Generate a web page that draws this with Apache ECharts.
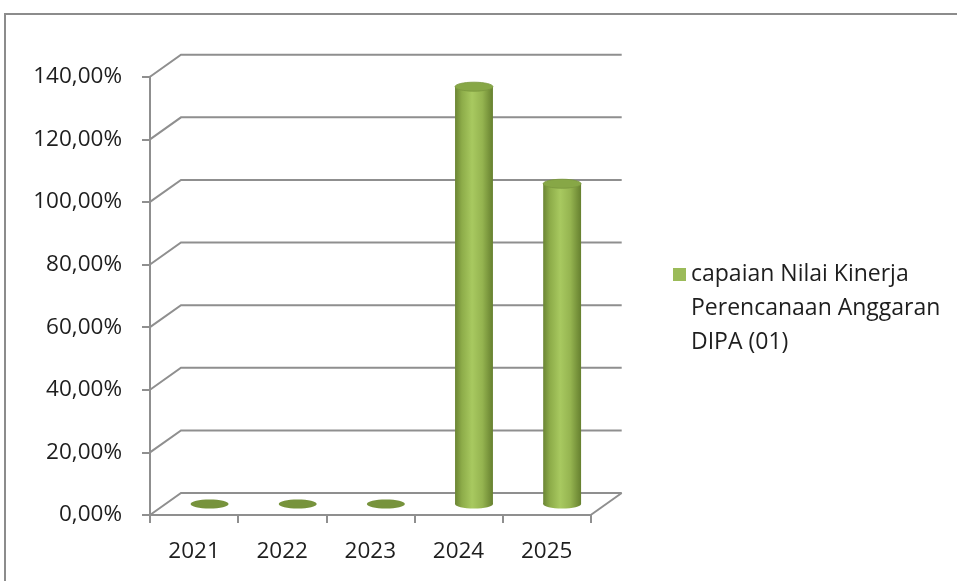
<!DOCTYPE html>
<html><head><meta charset="utf-8">
<script src="https://cdn.jsdelivr.net/npm/echarts@6/dist/echarts.min.js"></script>
<style>html,body{margin:0;padding:0;background:#fff}#c{width:957px;height:581px}</style>
</head><body><div id="c"></div>
<script>
const categories = ['2021', '2022', '2023', '2024', '2025'];
const values = [0, 0, 0, 133.3, 102.3];
const yTicks = [0, 20, 40, 60, 80, 100, 120, 140];
const seriesName = 'capaian Nilai Kinerja Perencanaan Anggaran DIPA (01)';

const DX = 31, DY = -22;
const FONT = 'Open Sans';
const LINE = '#8f8f8f';
const TEXT = '#1e1e1e';

const chart = echarts.init(document.getElementById('c'), null, { renderer: 'canvas' });

function gridRender(params, api) {
  const cs = params.coordSys;
  const v = api.value(1);
  const y = api.coord([0, v])[1];
  const x0 = cs.x, x1 = cs.x + cs.width;
  const children = [{
    type: 'polyline',
    shape: { points: [[x0, y], [x0 + DX, y + DY], [x1 + DX, y + DY]] },
    style: { stroke: LINE, lineWidth: 2, fill: null }
  }];
  if (v === 0) {
    children.push({
      type: 'line',
      shape: { x1: x1, y1: y, x2: x1 + DX, y2: y + DY },
      style: { stroke: LINE, lineWidth: 2 }
    });
  }
  return { type: 'group', children: children };
}

function barRender(params, api) {
  const i = api.value(0), v = api.value(1);
  const base = api.coord([i, 0]);
  const top = api.coord([i, v]);
  const bw = api.size([1, 0])[0] * 0.43;
  const cx = base[0] + DX / 2, by = base[1] + DY / 2, ty = top[1] + DY / 2;
  const rx = bw / 2, ry = 4.5;
  if (v <= 0) {
    return { type: 'ellipse', shape: { cx: cx, cy: by, rx: rx, ry: ry }, style: { fill: '#77933c' } };
  }
  const grad = () => new echarts.graphic.LinearGradient(0, 0, 1, 0, [
    { offset: 0, color: '#6b8534' },
    { offset: 0.18, color: '#8dac49' },
    { offset: 0.45, color: '#a8c960' },
    { offset: 0.72, color: '#95b450' },
    { offset: 1, color: '#66802f' }
  ]);
  return {
    type: 'group',
    children: [
      { type: 'ellipse', shape: { cx: cx, cy: by, rx: rx, ry: ry }, style: { fill: grad() } },
      { type: 'rect', shape: { x: cx - rx, y: ty, width: bw, height: by - ty }, style: { fill: grad() } },
      { type: 'ellipse', shape: { cx: cx, cy: ty, rx: rx, ry: ry }, style: { fill: '#87a746', stroke: '#7a973e', lineWidth: 0.8 } }
    ]
  };
}

chart.setOption({
  animation: false,
  graphic: [{
    type: 'rect', silent: true,
    shape: { x: 5, y: 14, width: 1000, height: 700 },
    style: { fill: null, stroke: '#8c8c8c', lineWidth: 2 }
  }],
  grid: { left: 150, top: 76.7, width: 440.7, height: 438.3, containLabel: false, outerBoundsMode: 'none' },
  legend: {
    orient: 'vertical', left: 668, top: 184.5,
    icon: 'rect', itemWidth: 13, itemHeight: 13,
    formatter: n => '\n\n' + n.replace(' Perencanaan', '\nPerencanaan').replace(' DIPA', '\nDIPA'),
    textStyle: { fontFamily: FONT, fontSize: 23, lineHeight: 34, color: TEXT },
    data: [seriesName]
  },
  xAxis: {
    type: 'category', data: categories, boundaryGap: true,
    axisLine: { show: true, lineStyle: { color: LINE, width: 2 } },
    axisTick: { show: true, length: 8, lineStyle: { color: LINE, width: 2 } },
    axisLabel: { fontFamily: FONT, fontSize: 22.5, color: TEXT, margin: 25 },
    splitLine: { show: false }
  },
  yAxis: {
    type: 'value', min: 0, max: 140, interval: 20,
    axisLine: { show: true, lineStyle: { color: LINE, width: 2 } },
    axisTick: { show: true, length: 8, lineStyle: { color: LINE, width: 2 } },
    axisLabel: {
      fontFamily: FONT, fontSize: 22.5, color: TEXT, margin: 28, padding: [7, 0, 0, 0],
      formatter: v => v.toFixed(2).replace('.', ',') + '%'
    },
    splitLine: { show: false }
  },
  series: [
    {
      type: 'custom', name: 'walls', silent: true, z: 1,
      renderItem: gridRender,
      data: yTicks.map(t => [0, t]),
      encode: { x: 0, y: 1 }
    },
    {
      type: 'custom', name: seriesName, z: 3,
      itemStyle: { color: '#9bbb59' },
      renderItem: barRender,
      data: values.map((v, i) => [i, v]),
      encode: { x: 0, y: 1 }
    }
  ]
});
</script></body></html>
